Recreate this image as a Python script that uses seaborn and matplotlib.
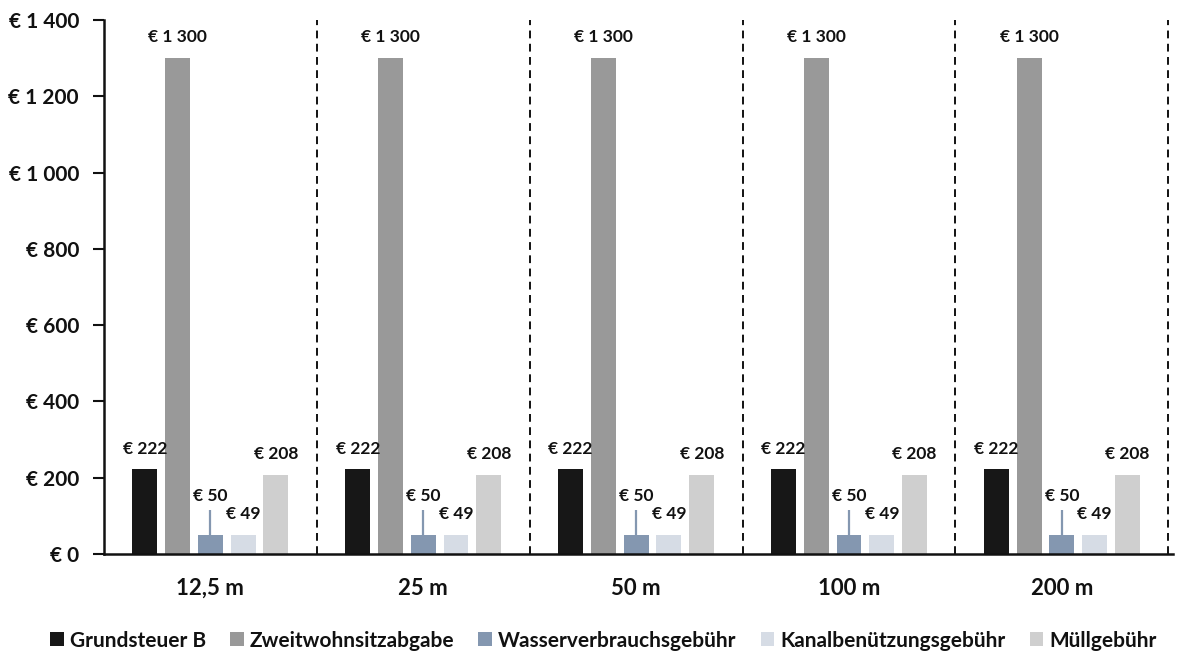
import matplotlib
matplotlib.use("Agg")
import matplotlib.pyplot as plt
import pandas as pd
import seaborn as sns

# Distances of the properties (x categories)
categories = ["12,5 m", "25 m", "50 m", "100 m", "200 m"]

# Yearly cost items in euro per distance
series_names = ["Grundsteuer B", "Zweitwohnsitzabgabe", "Wasserverbrauchsgebühr",
                "Kanalbenützungsgebühr", "Müllgebühr"]
grundsteuer = [222, 222, 222, 222, 222]
zweitwohnsitz = [1300, 1300, 1300, 1300, 1300]
wasser = [50, 50, 50, 50, 50]
kanal = [49, 49, 49, 49, 49]
muell = [208, 208, 208, 208, 208]

# Upper range of the water fee
wasser_upper_err = [65, 65, 65, 65, 65]

y_ticks = [0, 200, 400, 600, 800, 1000, 1200, 1400]

colors = ["#171717", "#999999", "#8497b0", "#d6dce5", "#cfcfcf"]

sns.set_theme(style="white")
plt.rcParams["font.family"] = ["Lato", "DejaVu Sans"]
plt.rcParams["font.weight"] = "bold"

values = [grundsteuer, zweitwohnsitz, wasser, kanal, muell]
rows = []
for name, vals in zip(series_names, values):
    for cat, v in zip(categories, vals):
        rows.append({"Abstand": cat, "Kosten": v, "Posten": name})
df = pd.DataFrame(rows)

fig = plt.figure(figsize=(11.88, 6.59), dpi=100)
ax = fig.add_axes([0.0875, 0.1593, 0.8995, 0.8104])

sns.barplot(data=df, x="Abstand", y="Kosten", hue="Posten", order=categories,
            hue_order=series_names, palette=colors, width=0.77, gap=0.24,
            errorbar=None, saturation=1, linewidth=0, ax=ax)

# One-sided range on the water fee bars
wasser_bars = ax.containers[2]
xs = [p.get_x() + p.get_width() / 2 for p in wasser_bars]
ax.errorbar(xs, wasser, yerr=[[0] * len(wasser), wasser_upper_err], fmt="none",
            ecolor="#8497b0", elinewidth=1.6, capsize=0, zorder=1)

# Value labels above the bars (or above the range line)
fmt = lambda v: "€ " + f"{v:,}".replace(",", " ")
for i, (container, vals) in enumerate(zip(ax.containers, values)):
    for j, (patch, v) in enumerate(zip(container, vals)):
        cx = patch.get_x() + patch.get_width() / 2
        if i == 2:
            top, off = v + wasser_upper_err[j], 10
        else:
            top, off = v, 15
        ax.annotate(fmt(v), (cx, top), xytext=(0, off), textcoords="offset points",
                    ha="center", va="center", fontsize=12.5, fontweight="bold",
                    color="#111111")

# Dashed separators between distance groups
for b in [0.5, 1.5, 2.5, 3.5, 4.5]:
    ax.plot([b, b], [0, 1400], color="#111111", linestyle=(0, (4, 2.8)), linewidth=1.4,
            zorder=0)

ax.set_xlim(-0.5, 4.52)
ax.set_ylim(0, 1400)
ax.set_yticks(y_ticks)
ax.set_yticklabels([fmt(t) for t in y_ticks], fontsize=15, fontweight="bold",
                   color="#111111")
ax.set_xticks(range(len(categories)))
ax.set_xticklabels(categories, fontsize=16, fontweight="bold", color="#111111")
ax.tick_params(axis="y", direction="out", length=8, width=1.5, color="#111111",
               pad=10, left=True)
ax.tick_params(axis="x", length=0, pad=17)
ax.set_xlabel("")
ax.set_ylabel("")

for side in ["top", "right"]:
    ax.spines[side].set_visible(False)
for side in ["left", "bottom"]:
    ax.spines[side].set_color("#111111")
    ax.spines[side].set_linewidth(1.8)

handles, labels = ax.get_legend_handles_labels()
ax.legend_.remove()
fig.legend(handles, labels, loc="center", bbox_to_anchor=(0.508, 0.028), ncol=5,
           frameon=False, handlelength=0.65, handleheight=0.65, handletextpad=0.3,
           columnspacing=1.15, prop={"size": 15, "weight": "bold"},
           labelcolor="#111111")

fig.savefig("out.png", dpi=100)
